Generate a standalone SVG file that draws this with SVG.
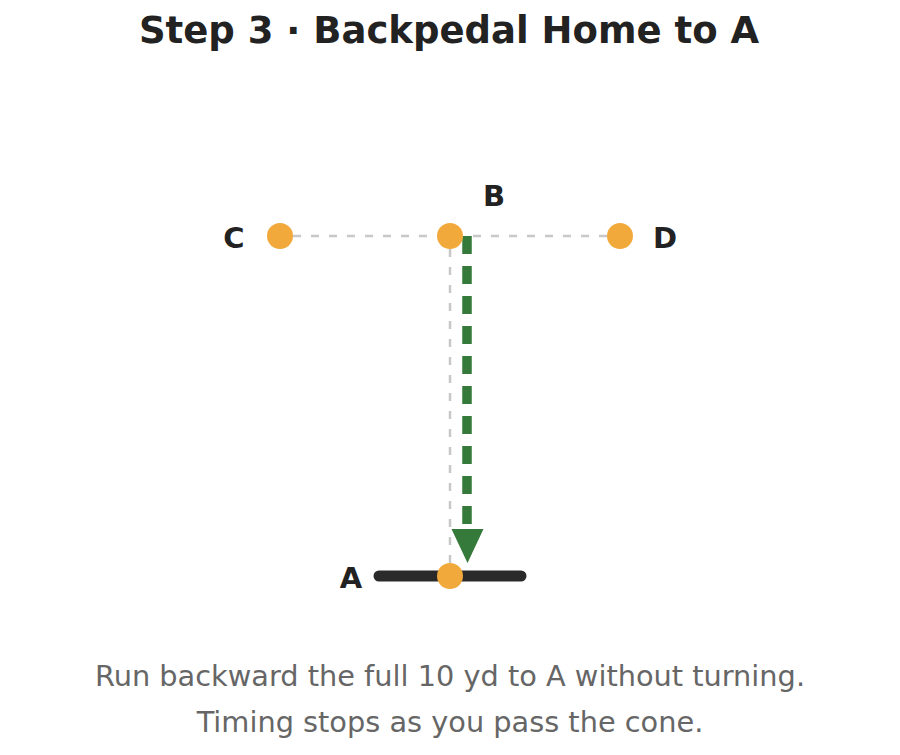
<svg xmlns="http://www.w3.org/2000/svg" width="900" height="755" viewBox="0 0 900 755">
<style>
.title{font-family:"DejaVu Sans",sans-serif;font-weight:bold;font-size:37px;fill:#222;text-anchor:middle}
.lbl{font-family:"DejaVu Sans",sans-serif;font-weight:bold;font-size:29px;fill:#222;text-anchor:middle}
.cap{font-family:"DejaVu Sans",sans-serif;font-size:28.8px;fill:#666;text-anchor:middle}
.guide{stroke:#c8c8c8;stroke-width:2.5;stroke-dasharray:8 10;fill:none}
.cone{fill:#f2a93b}
</style>
<rect width="900" height="755" fill="#fff"/>
<text class="title" x="449" y="43">Step 3 · Backpedal Home to A</text>
<g id="connectors">
<line class="guide" x1="293" y1="236" x2="607" y2="236"/>
<line class="guide" x1="450" y1="249" x2="450" y2="565"/>
<line x1="467" y1="236" x2="467" y2="530" stroke="#357a3a" stroke-width="9.5" stroke-dasharray="18 12"/>
<polygon points="451.5,529 483.5,529 467.5,563" fill="#357a3a"/>
</g>
<g id="startline">
<line x1="379" y1="576" x2="521" y2="576" stroke="#2a2a2a" stroke-width="11" stroke-linecap="round"/>
</g>
<g id="cone-C"><circle class="cone" cx="280" cy="236" r="13"/><text class="lbl" x="234" y="248">C</text></g>
<g id="cone-B"><circle class="cone" cx="450" cy="236" r="13"/><text class="lbl" x="494" y="206">B</text></g>
<g id="cone-D"><circle class="cone" cx="620" cy="236" r="13"/><text class="lbl" x="665" y="248">D</text></g>
<g id="cone-A"><circle class="cone" cx="450" cy="576" r="13"/><text class="lbl" x="351" y="588">A</text></g>
<text class="cap" x="450" y="686">Run backward the full 10 yd to A without turning.</text>
<text class="cap" x="450" y="732">Timing stops as you pass the cone.</text>
</svg>
